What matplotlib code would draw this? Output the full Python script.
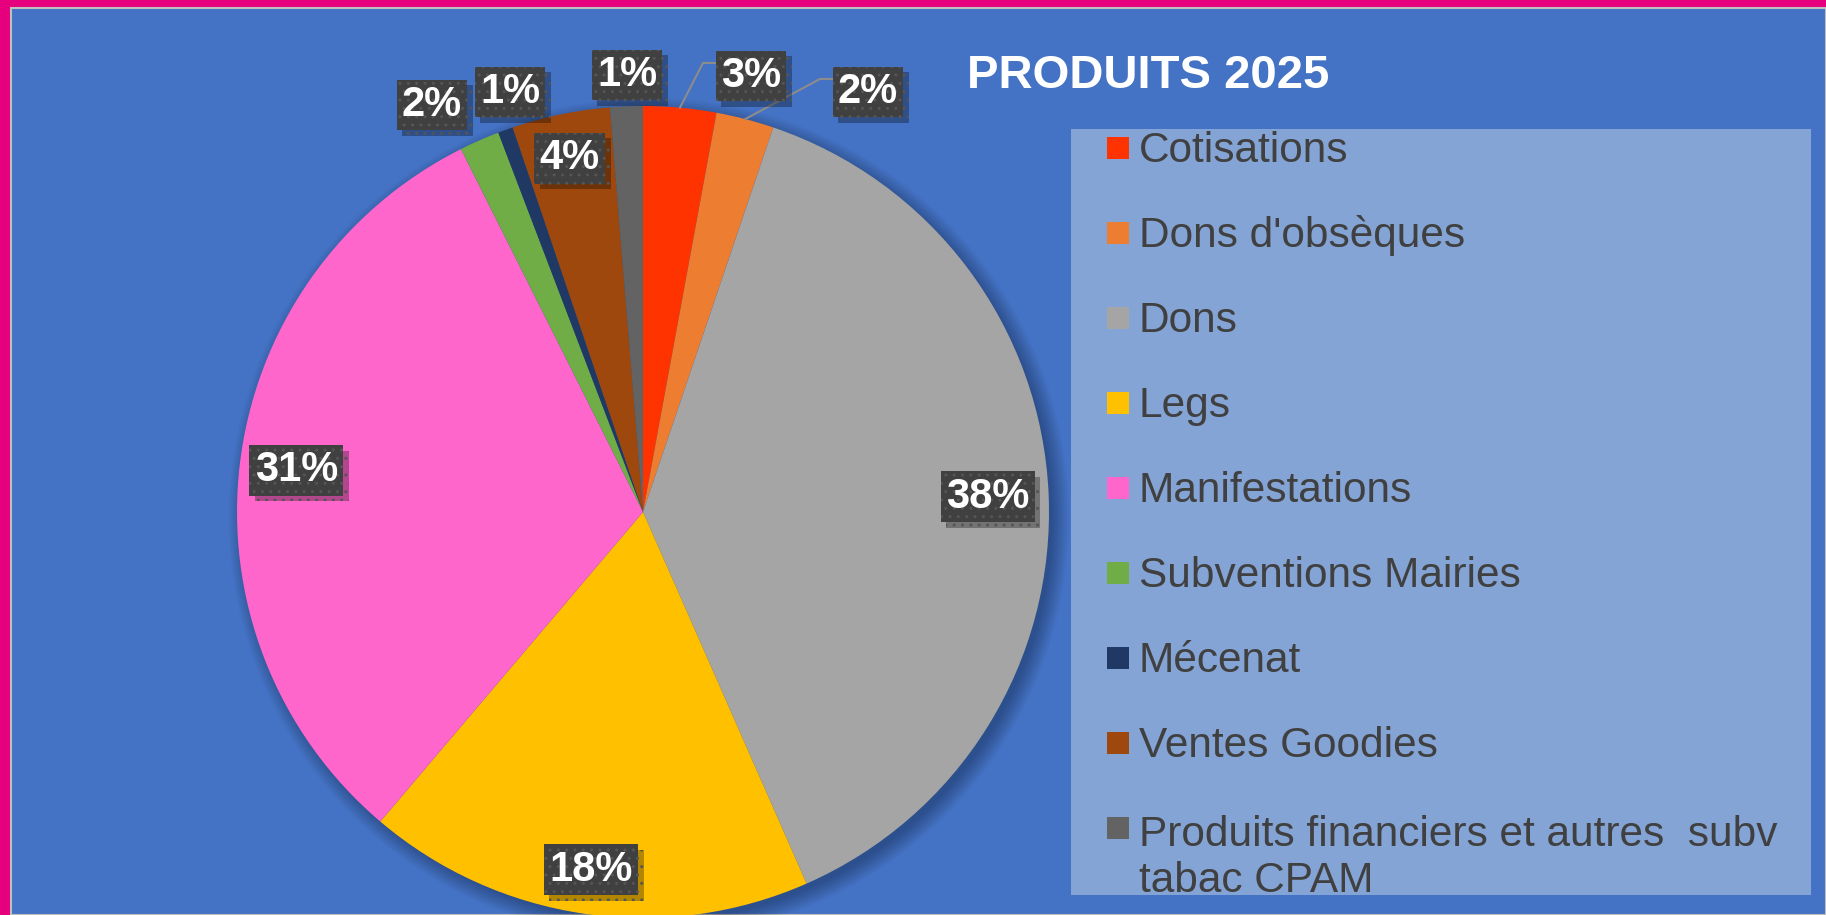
import matplotlib
matplotlib.use("Agg")
import numpy as np
from matplotlib import pyplot as plt
from matplotlib.patches import Rectangle, Circle
import matplotlib.patheffects as pe

''' Data '''
categories = ["Cotisations", "Dons d'obsèques", "Dons", "Legs", "Manifestations",
              "Subventions Mairies", "Mécenat", "Ventes Goodies",
              "Produits financiers et autres  subv\ntabac CPAM"]
shares = [2.9, 2.3, 38.2, 17.8, 31.4, 1.6, 0.6, 3.9, 1.3]
colors = ["#FF3300", "#ED7D31", "#A5A5A5", "#FFC000", "#FF66CC",
          "#70AD47", "#1F3864", "#9E480E", "#636363"]
title = "PRODUITS 2025"

''' Layout (pixels, image coords: y down) '''
W, H = 1826, 915
CENTER = (643, 512)
RADIUS = 406
# labels of the thin slices sit outside the pie, the others inside along mid angle
outside_xy = {0: (751, 76), 1: (868, 92), 5: (432, 105), 6: (510, 92), 8: (627, 75)}
inside_r = {2: 0.85, 3: 0.89, 4: 0.86, 7: 0.89}
leader = {0, 1}

plt.rcParams['font.family'] = ['Liberation Sans', 'DejaVu Sans']

fig = plt.figure(figsize=(W / 100, H / 100), dpi=100, facecolor="#E6007E")
ax = fig.add_axes([0, 0, 1, 1])
ax.set_axis_off()


def py(y):
    # image y -> data y
    return H - y


# blue chart area with thin gray frame
ax.add_patch(Rectangle((11, 0), W - 11, H - 8, facecolor="#4472C4",
                       edgecolor="#BFBFBF", lw=1.5, zorder=0))

# soft shadow behind the pie
for k in range(12):
    ax.add_patch(Circle((CENTER[0] + 6, py(CENTER[1]) - 6), RADIUS + 14 - k * 1.5,
                        facecolor="black", alpha=0.025, lw=0, zorder=1))

wedges, _ = ax.pie(shares, colors=colors, startangle=90, counterclock=False,
                   center=(CENTER[0], py(CENTER[1])), radius=RADIUS,
                   wedgeprops=dict(linewidth=0, zorder=2))
ax.set_xlim(0, W)
ax.set_ylim(0, H)
ax.set_aspect("equal")

box = dict(boxstyle="square,pad=0.13", facecolor="#404040", edgecolor="#555555",
           lw=0, hatch="..")
box_shadow = [pe.SimplePatchShadow(offset=(4, -4), shadow_rgbFace="black", alpha=0.3),
              pe.Normal()]

for i, w in enumerate(wedges):
    mid = np.deg2rad((w.theta1 + w.theta2) / 2)
    txt = f"{round(shares[i] / sum(shares) * 100)}%"
    if i in outside_xy:
        lx, ly = outside_xy[i][0], py(outside_xy[i][1])
    else:
        r = inside_r.get(i, 0.87) * RADIUS
        lx = CENTER[0] + r * np.cos(mid)
        ly = py(CENTER[1]) + r * np.sin(mid)
    if i in leader:
        ex = CENTER[0] + RADIUS * np.cos(mid)
        ey = py(CENTER[1]) + RADIUS * np.sin(mid)
        left = lx - 36
        ax.plot([ex, left - 12, left], [ey, ly + 13, ly + 13],
                color="#8C8C8C", lw=1.5, zorder=3)
    t = ax.text(lx, ly, txt, fontsize=30, fontweight="bold", color="white",
                ha="center", va="center", bbox=box, zorder=5)
    t.get_bbox_patch().set_path_effects(box_shadow)

ax.text(1148, py(76), title, fontsize=34, fontweight="bold", color="white",
        ha="center", va="center", zorder=5)

# legend panel
ax.add_patch(Rectangle((1071, py(895)), 1811 - 1071, 895 - 129,
                       facecolor="#84A4D6", lw=0, zorder=1))
for i, (name, c) in enumerate(zip(categories, colors)):
    my = 148 + 85 * i
    extra = 50 * name.count("\n")  # baseline goes on the last line
    ax.add_patch(Rectangle((1107, py(my) - 11), 22, 22, facecolor=c, lw=0, zorder=3))
    ax.text(1139, py(my + 14 + extra), name, fontsize=30.5, color="#404040",
            ha="left", va="baseline", linespacing=1.2, zorder=3)

fig.savefig("out.png", dpi=100, facecolor=fig.get_facecolor())
